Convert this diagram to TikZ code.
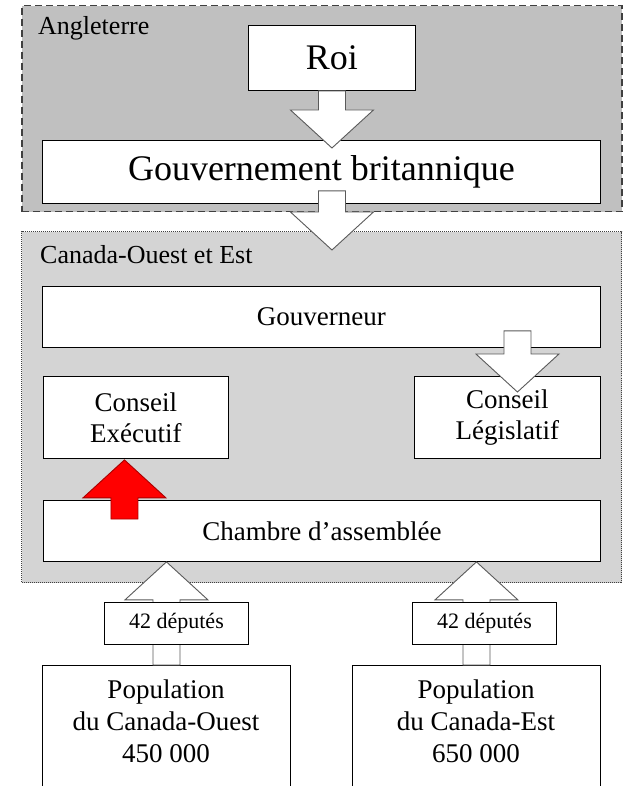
\documentclass[tikz,border=0pt]{standalone}
\usepackage{fontspec}
\setmainfont{Liberation Serif}
\usetikzlibrary{calc}

\definecolor{angfill}{RGB}{192,192,192}
\definecolor{canfill}{RGB}{212,212,212}
\definecolor{edgegray}{RGB}{64,64,64}
\definecolor{arrowedge}{RGB}{90,90,90}
\definecolor{redfill}{RGB}{255,0,0}
\definecolor{rededge}{RGB}{170,0,0}

\tikzset{
  group/.style={anchor=north west, inner sep=0pt},
  grouplabel/.style={anchor=base west, inner sep=0pt, font=\fontsize{26}{30}\selectfont},
  box/.style={draw=black, line width=0.9pt, fill=white, anchor=north west,
    inner sep=0pt, align=center, font=\fontsize{27}{31}\selectfont},
  bigbox/.style={box, font=\fontsize{36}{40}\selectfont},
  smallbox/.style={box, font=\fontsize{22}{26}\selectfont},
  boxtext/.style={inner sep=0pt, align=center, font=\fontsize{27}{32}\selectfont},
  blockarr/.style={fill=white, draw=arrowedge, line width=0.9pt, line join=miter},
  redarr/.style={fill=redfill, draw=rededge, line width=0.9pt, line join=miter}
}

% vertical block arrow: shaft from #2, tip at #3
\newcommand\fatarrow[3][]{%
  \filldraw[blockarr,#1] let \p1=(#2), \p2=(#3), \p3=($(#3)!38pt!(#2)$) in
    (\x1-13.5pt,\y1) -- (\x1-13.5pt,\y3) -- (\x1-41.5pt,\y3) -- (\x1,\y2) --
    (\x1+41.5pt,\y3) -- (\x1+13.5pt,\y3) -- (\x1+13.5pt,\y1) -- cycle;}

\begin{document}
\begin{tikzpicture}[x=1pt,y=-1pt]
\useasboundingbox (0,0) rectangle (623,786);
\clip (0,0) rectangle (623,786);

% England
\node[group, fill=angfill, draw=edgegray, line width=1.5pt, dash pattern=on 7pt off 4pt,
  minimum width=600pt, minimum height=206pt] (ang) at (21,5) {};
\node[grouplabel] (angl) at (38,35) {Angleterre};
\node[bigbox, minimum width=167pt, minimum height=65pt] (roi) at (248,25) {Roi};
\node[bigbox, minimum width=558pt, minimum height=63pt] (gouv) at (42,140) {Gouvernement britannique};

% United Province of Canada
\node[group, fill=canfill, draw=edgegray, line width=1pt, dash pattern=on 1pt off 1pt,
  minimum width=600pt, minimum height=351pt] (can) at (21,231) {};
\node[grouplabel] (canl) at (40,263) {Canada-Ouest et Est};
\node[box, minimum width=558pt, minimum height=61pt] (gouvr) at (42,286) {Gouverneur};
\node[box, minimum width=185pt, minimum height=82pt] (ce) at (43,376) {Conseil\\Exécutif};
\node[box, minimum width=186pt, minimum height=82pt] (cl) at (414,376) {Conseil\\Législatif};
\node[box, minimum width=557pt, minimum height=61pt] (ch) at (43,500) {Chambre d’assemblée};

% Populations (boxes run past the lower edge)
\node[box, minimum width=248pt, minimum height=160pt] (p1) at (42,665) {};
\node[box, minimum width=248pt, minimum height=160pt] (p2) at (352,665) {};
\node[boxtext] (p1t) at (166,721) {Population\\du Canada-Ouest\\450 000};
\node[boxtext] (p2t) at (476,721) {Population\\du Canada-Est\\650 000};

% Arrows
\fatarrow{roi.south}{$(roi.south |- gouv.north)+(0,8)$}
\fatarrow{$(roi.south |- gouv.south)+(0,-13)$}{$(roi.south |- can.north)+(0,19)$}
\fatarrow{$(cl.north |- gouvr.south)+(10,-17)$}{$(cl.north)+(10,16)$}
\fatarrow[redarr]{$(ce.south |- ch.north)+(-11.5,19)$}{$(ce.south)+(-11.5,1)$}
\fatarrow{p1.north}{p1.north |- ch.south}
\fatarrow{p2.north}{p2.north |- ch.south}

% Deputies
\node[smallbox, minimum width=144pt, minimum height=42pt] (d1) at (104,602) {42 députés};
\node[smallbox, minimum width=144pt, minimum height=42pt] (d2) at (412,602) {42 députés};
\end{tikzpicture}
\end{document}
